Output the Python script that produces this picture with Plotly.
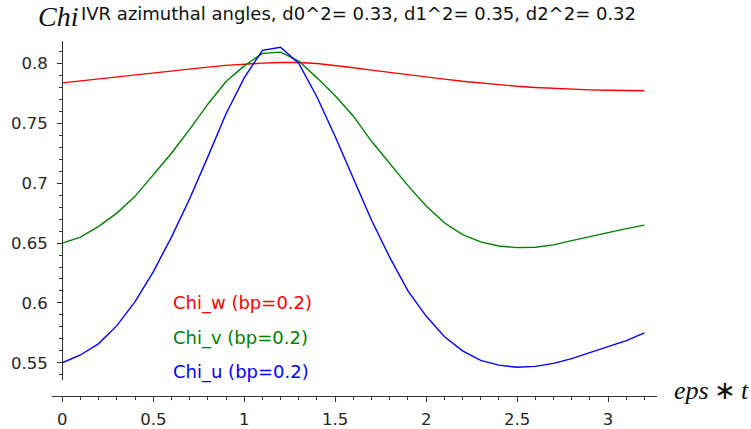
import plotly.graph_objects as go

# ---- data ----
eps_t = [round(0.1 * i, 1) for i in range(33)]
chi_w = [0.7838, 0.7855, 0.7872, 0.7889, 0.7906, 0.7923, 0.7940, 0.7956, 0.7970, 0.7984,
         0.7995, 0.8003, 0.8008, 0.8008, 0.8000, 0.7985, 0.7965, 0.7945, 0.7925, 0.7905,
         0.7888, 0.7870, 0.7852, 0.7836, 0.7822, 0.7810, 0.7800, 0.7792, 0.7785, 0.7780,
         0.7776, 0.7773, 0.7772]
chi_v = [0.650, 0.655, 0.664, 0.675, 0.689, 0.707, 0.725, 0.745, 0.766, 0.785,
         0.798, 0.8085, 0.8095, 0.802, 0.788, 0.773, 0.756, 0.735, 0.716, 0.698,
         0.681, 0.667, 0.657, 0.651, 0.6475, 0.6462, 0.6465, 0.6485, 0.652, 0.6555,
         0.659, 0.662, 0.665]
chi_u = [0.550, 0.5565, 0.566, 0.581, 0.601, 0.626, 0.655, 0.687, 0.722, 0.758,
         0.788, 0.811, 0.8135, 0.800, 0.772, 0.739, 0.704, 0.669, 0.638, 0.610,
         0.589, 0.572, 0.560, 0.552, 0.548, 0.5462, 0.547, 0.5495, 0.5535, 0.5585,
         0.5635, 0.5685, 0.575]
labels = ["Chi_w (bp=0.2)", "Chi_v (bp=0.2)", "Chi_u (bp=0.2)"]
label_y = [0.600, 0.571, 0.542]
colors = ["#ff0000", "#008000", "#0000ff"]
x_ticks = [0, 0.5, 1, 1.5, 2, 2.5, 3]
x_ticktext = ["0", "0.5", "1", "1.5", "2", "2.5", "3"]
y_ticks = [0.55, 0.6, 0.65, 0.7, 0.75, 0.8]
y_ticktext = ["0.55", "0.6", "0.65", "0.7", "0.75", "0.8"]
title_text = "IVR azimuthal angles, d0^2= 0.33, d1^2= 0.35, d2^2= 0.32"

W, H = 751, 429
L, R, T, B = 52, 94, 41, 33
pw = W - L - R
ph = H - T - B

fig = go.Figure()
for ys, c in zip([chi_w, chi_v, chi_u], colors):
    fig.add_trace(go.Scatter(x=eps_t, y=ys, mode="lines",
                             line=dict(color=c, width=1.4), showlegend=False,
                             hoverinfo="skip"))

tickfont = dict(family="DejaVu Sans", size=16.5, color="#262626")
axis_col = "#333333"

fig.update_layout(
    width=W, height=H,
    margin=dict(l=L, r=R, t=T, b=B, pad=0, autoexpand=False),
    paper_bgcolor="white", plot_bgcolor="white",
    xaxis=dict(range=[-0.0566, 3.269], domain=[0, 1], anchor="free", position=0,
               automargin=False,
               showgrid=False, zeroline=False, showline=True, linecolor=axis_col,
               linewidth=1, ticks="outside", ticklen=5, tickwidth=1, tickcolor=axis_col,
               tickvals=x_ticks, ticktext=x_ticktext, tickfont=tickfont,
               ticklabelstandoff=3,
               minor=dict(dtick=0.1, tick0=0, ticks="outside", ticklen=3,
                          tickcolor=axis_col, showgrid=False)),
    yaxis=dict(range=[0.5356, 0.8188], domain=[16 / ph, 1], anchor="free",
               position=(62 - L) / pw, automargin=False,
               showgrid=False, zeroline=False, showline=True, linecolor=axis_col,
               linewidth=1, ticks="outside", ticklen=5, tickwidth=1, tickcolor=axis_col,
               tickvals=y_ticks, ticktext=y_ticktext, tickfont=tickfont,
               ticklabelstandoff=6,
               minor=dict(dtick=0.01, tick0=0.5, ticks="outside", ticklen=3,
                          tickcolor=axis_col, showgrid=False)),
)

def px_x(p):
    return (p - L) / pw

def px_y(p):
    return (H - B - p) / ph

for txt, yv, c in zip(labels, label_y, colors):
    fig.add_annotation(x=0.595, y=yv, xref="x", yref="y", text=txt, showarrow=False,
                       xanchor="left", yanchor="middle",
                       font=dict(family="DejaVu Sans", size=18, color=c))

fig.add_annotation(x=px_x(79), y=px_y(13), xref="paper", yref="paper", text=title_text,
                   showarrow=False, xanchor="left", yanchor="middle",
                   font=dict(family="DejaVu Sans", size=18, color="#111111"))
fig.add_annotation(x=px_x(36), y=px_y(16), xref="paper", yref="paper", text="<i>Chi</i>",
                   showarrow=False, xanchor="left", yanchor="middle",
                   font=dict(family="Liberation Serif", size=28, color="#111111"))
fig.add_annotation(x=px_x(672), y=px_y(390), xref="paper", yref="paper",
                   text="<i>eps</i>\u2009\u2217\u2009<i>t</i>",
                   showarrow=False, xanchor="left", yanchor="middle",
                   font=dict(family="Liberation Serif", size=26, color="#111111"))

fig.write_html("out.html")
